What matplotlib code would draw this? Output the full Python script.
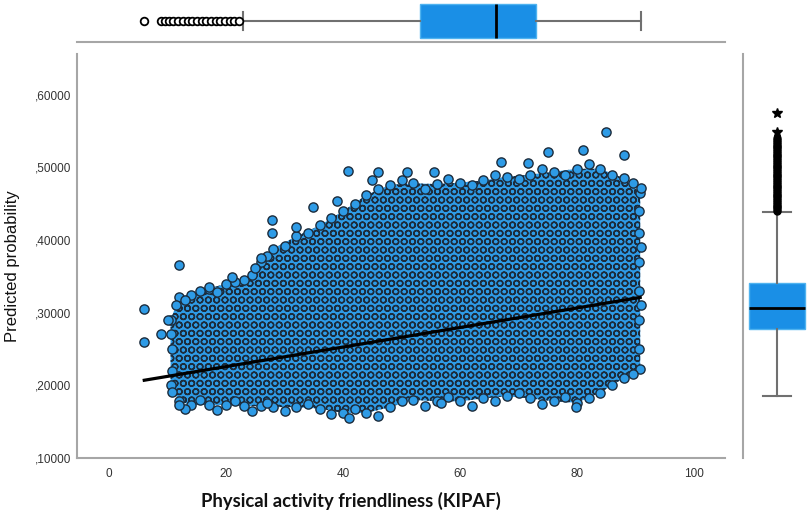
import numpy as np
import matplotlib.pyplot as plt
from matplotlib.ticker import FuncFormatter

# outline of the dense point cloud (x, upper edge, lower edge)
cloud_x = [10.5, 12, 14, 17, 20, 23, 26, 28, 32, 36, 40, 44, 48, 52,
           56, 60, 64, 68, 72, 76, 80, 84, 88, 90.8]
cloud_hi = [0.290, 0.322, 0.325, 0.333, 0.340, 0.345, 0.370, 0.388, 0.405,
            0.420, 0.440, 0.462, 0.476, 0.478, 0.477, 0.479, 0.482, 0.487,
            0.490, 0.494, 0.498, 0.498, 0.485, 0.465]
cloud_lo = [0.200, 0.178, 0.173, 0.173, 0.173, 0.172, 0.171, 0.170, 0.170,
            0.168, 0.162, 0.162, 0.170, 0.180, 0.178, 0.178, 0.182, 0.185,
            0.182, 0.178, 0.176, 0.190, 0.210, 0.222]

# points along the ragged rim of the cloud
rim_x = [13, 15.5, 18.5, 21.5, 24.5, 27, 30, 34, 38, 42, 46, 50, 54, 58,
         62, 66, 70, 74, 78, 82, 86, 89.5,
         13, 15.5, 18.5, 21.5, 24.5, 27, 30, 34, 38, 42, 46, 50, 54, 58,
         62, 66, 70, 74, 78, 82, 86, 89.5,
         90.6, 90.6, 90.6, 90.6, 90.6, 90.6, 91.0, 91.0,
         10.8, 10.8, 10.6, 11.5]
rim_y = [0.318, 0.330, 0.328, 0.342, 0.352, 0.378, 0.392, 0.410, 0.430,
         0.450, 0.470, 0.482, 0.470, 0.484, 0.476, 0.490, 0.484, 0.498,
         0.490, 0.505, 0.490, 0.478,
         0.168, 0.180, 0.166, 0.178, 0.165, 0.176, 0.164, 0.174, 0.160,
         0.168, 0.158, 0.178, 0.172, 0.184, 0.172, 0.178, 0.190, 0.174,
         0.184, 0.182, 0.200, 0.215,
         0.250, 0.290, 0.330, 0.370, 0.410, 0.440, 0.310, 0.390,
         0.220, 0.250, 0.270, 0.310]

# loose points outside the dense cloud
loose_x = [6.0, 6.0, 8.9, 10.1, 12.0, 10.8, 17.0, 21.0, 25.0, 26.0, 27.9,
           27.9, 32.0, 34.9, 39.0, 40.9, 45.0, 45.9, 51.0, 55.5, 67.0, 71.6,
           75.0, 81.0, 84.9, 88.0, 90.9, 79.8, 41.0, 56.7, 12.0]
loose_y = [0.305, 0.260, 0.271, 0.290, 0.366, 0.191, 0.336, 0.349, 0.362,
           0.375, 0.428, 0.410, 0.418, 0.446, 0.454, 0.495, 0.483, 0.494,
           0.494, 0.494, 0.508, 0.506, 0.521, 0.524, 0.549, 0.517, 0.472,
           0.170, 0.155, 0.176, 0.173]

# fit line
fit_x = [6.0, 90.8]
fit_y = [0.207, 0.321]

# marginal box plots
kipaf_box = dict(whislo=22.9, q1=53.1, med=66.1, q3=72.9, whishi=90.9)
kipaf_out = [6.0, 8.8, 9.5, 10.2, 11.0, 11.8, 12.6, 13.4, 14.2, 15.0, 15.8,
             16.6, 17.4, 18.2, 19.0, 19.8, 20.6, 21.4, 22.2]
prob_box = dict(whislo=0.185, q1=0.278, med=0.307, q3=0.341, whishi=0.439)
prob_out = [0.440, 0.4425, 0.445, 0.4475, 0.450, 0.4525, 0.455, 0.4575,
            0.460, 0.4625, 0.465, 0.4675, 0.470, 0.4725, 0.475, 0.4775,
            0.480, 0.4825, 0.485, 0.4875, 0.490, 0.4925, 0.495, 0.4975,
            0.500, 0.5025, 0.505, 0.5075, 0.510, 0.5125, 0.515, 0.5175,
            0.520, 0.5225, 0.525, 0.5275, 0.530, 0.5325, 0.535, 0.5375,
            0.540]
prob_extreme = [0.548, 0.575]

W, H = 810, 514
BLUE = "#2e9be6"
BOX_BLUE = "#1a8fe6"
EDGE = "#1c2c3c"
GREY = "#a6a6a6"

plt.rcParams["font.family"] = ["Liberation Sans", "DejaVu Sans"]
plt.rcParams["hatch.linewidth"] = 1.0


def fx(px):
    return px / W


def fy(py):
    return 1 - py / H


def main() -> None:
    fig = plt.figure(figsize=(W / 100, H / 100), dpi=100)

    ax = fig.add_axes([fx(77), fy(458), fx(725) - fx(77), fy(54) - fy(458)])
    ax_top = fig.add_axes([fx(77), fy(42), fx(725) - fx(77), fy(0) - fy(42)])
    ax_right = fig.add_axes([fx(743), fy(458), fx(810) - fx(743), fy(54) - fy(458)])

    # main scatter: dense core as a hatched area, rim and loose points as markers
    ax.fill_between(cloud_x, cloud_lo, cloud_hi, facecolor=BLUE, edgecolor="none", zorder=2)
    ax.fill_between(cloud_x, cloud_lo, cloud_hi, facecolor="none", edgecolor=EDGE,
                    hatch="OO", linewidth=0, zorder=3)
    pts_x = cloud_x + cloud_x + rim_x + loose_x
    pts_y = cloud_hi + cloud_lo + rim_y + loose_y
    ax.scatter(pts_x, pts_y, s=44, facecolor=BLUE, edgecolor=EDGE, linewidth=1.0, zorder=4)
    ax.plot(fit_x, fit_y, color="black", linewidth=2.3, zorder=5)

    ax.set_xlim(-5.5, 105.3)
    ax.set_ylim(0.1, 0.656)
    ax.set_xticks(range(0, 101, 20))
    ax.set_yticks([0.1, 0.2, 0.3, 0.4, 0.5, 0.6])
    ax.yaxis.set_major_formatter(FuncFormatter(lambda v, p: f"{v:.5f}"[1:].replace(".", ",")))
    ax.tick_params(length=0, labelsize=8.5, labelcolor="#333333")
    ax.tick_params(axis="x", pad=7)
    ax.tick_params(axis="y", pad=4)
    for side in ("top", "right"):
        ax.spines[side].set_visible(False)
    for side in ("left", "bottom"):
        ax.spines[side].set_color(GREY)
        ax.spines[side].set_linewidth(1.5)

    box_style = dict(
        patch_artist=True, showfliers=True,
        boxprops=dict(facecolor=BOX_BLUE, edgecolor="#4fb3f0", linewidth=1.0),
        medianprops=dict(color="black", linewidth=2.0),
        whiskerprops=dict(color="#707070", linewidth=1.5),
        capprops=dict(color="#707070", linewidth=1.5),
    )

    # top marginal box plot
    top_stats = dict(kipaf_box, fliers=kipaf_out)
    ax_top.bxp([top_stats], positions=[0.5], widths=0.81, vert=False,
               flierprops=dict(marker="o", markersize=5.5, markerfacecolor="white",
                               markeredgecolor="black", markeredgewidth=1.3),
               **box_style)
    ax_top.set_xlim(ax.get_xlim())
    ax_top.set_ylim(0, 1)
    ax_top.set_xticks([])
    ax_top.set_yticks([])
    for side in ("top", "right", "left"):
        ax_top.spines[side].set_visible(False)
    ax_top.spines["bottom"].set_color(GREY)
    ax_top.spines["bottom"].set_linewidth(1.5)

    # right marginal box plot
    right_stats = dict(prob_box, fliers=prob_out)
    ax_right.bxp([right_stats], positions=[0.507], widths=0.836,
                 flierprops=dict(marker="o", markersize=5, markerfacecolor="black",
                                 markeredgecolor="black"),
                 **box_style)
    ax_right.plot([0.507] * len(prob_extreme), prob_extreme, linestyle="none",
                  marker="*", markersize=7, color="black")
    ax_right.set_ylim(ax.get_ylim())
    ax_right.set_xlim(0, 1)
    ax_right.set_xticks([])
    ax_right.set_yticks([])
    for side in ("top", "right", "bottom"):
        ax_right.spines[side].set_visible(False)
    ax_right.spines["left"].set_color(GREY)
    ax_right.spines["left"].set_linewidth(1.5)

    fig.text(fx(13), fy(266), "Predicted probability", rotation=90,
             ha="center", va="center", fontsize=12, color="#111111")
    fig.text(fx(351), fy(501), "Physical activity friendliness (KIPAF)",
             ha="center", va="center", fontsize=13.3, fontweight="bold",
             family=["Lato", "DejaVu Sans"], color="#111111")

    fig.savefig("out.png", dpi=100)


if __name__ == "__main__":
    main()
